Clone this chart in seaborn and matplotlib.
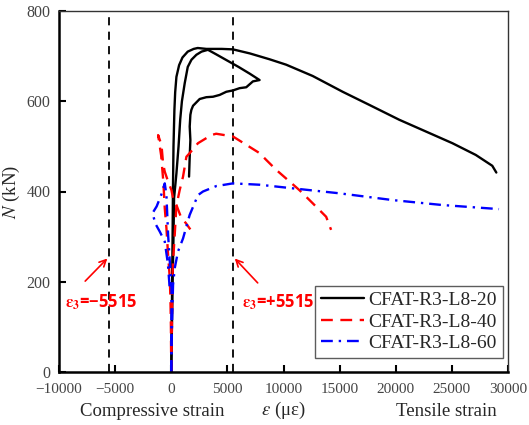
import numpy as np
import pandas as pd
import matplotlib
matplotlib.use("Agg")
import matplotlib.pyplot as plt
from matplotlib.lines import Line2D
import seaborn as sns

# ---------------- data ----------------
specimens = ["CFAT-R3-L8-20", "CFAT-R3-L8-40", "CFAT-R3-L8-60"]

# CFAT-R3-L8-20, gauge A (outer branch -> long tensile tail)
s20a_strain = [0, 40, 80, 120, 150, 200, 280, 350, 460, 700, 1000, 1470, 2000, 2360,
               3130, 4500, 5490, 7000, 8760, 10240, 12600, 15270, 17640, 20310,
               22680, 25050, 27130, 28600, 28960]
s20a_N = [0, 100, 200, 300, 400, 500, 580, 620, 654, 680, 697, 710, 716, 718,
          716, 716, 715, 706, 693, 681, 656, 621, 592, 559, 533, 507, 481, 457, 442]
# CFAT-R3-L8-20, gauge B (inner branch, unloading hook)
s20b_strain = [0, 60, 120, 200, 250, 460, 650, 800, 950, 1200, 1470, 1800, 2240, 2700,
               3270, 4000, 5000, 6000, 7000, 7870, 7274, 6681, 6089, 5496, 4904,
               4311, 3719, 3126, 2533, 1941, 1793, 1704, 1644, 1704, 1644, 1585]
s20b_N = [0, 100, 200, 300, 385, 440, 500, 560, 600, 640, 676, 692, 703, 710,
          714, 704, 690, 676, 661, 647, 644, 631, 629, 624, 621,
          614, 610, 609, 605, 590, 581, 570, 544, 514, 477, 433]

# CFAT-R3-L8-40, gauge A (compressive loop)
s40a_strain = [0, -30, -70, -130, -280, -430, -578, -700, -900, -1170, -870, -730,
               -580, -280, 20, 160, 460, 900, 1300, 1700]
s40a_N = [0, 100, 160, 208, 259, 319, 363, 420, 480, 525, 503, 463,
          444, 422, 403, 385, 370, 341, 330, 316]
# CFAT-R3-L8-40, gauge B (tensile branch)
s40b_strain = [0, 60, 100, 160, 310, 460, 600, 750, 1050, 1350, 1640, 2380, 3570,
               4000, 5490, 7870, 8460, 9350, 11420, 12600, 13800, 14240]
s40b_N = [0, 100, 200, 245, 304, 370, 385, 403, 433, 477, 485, 507, 525,
          528, 522, 485, 470, 448, 403, 374, 344, 315]

# CFAT-R3-L8-60, gauge A (compressive loop)
s60a_strain = [0, 10, 20, -130, -280, -430, -578, -900, -1300, -1670, -1400, -1020,
               -578, -300, -150]
s60a_N = [0, 100, 193, 245, 304, 392, 418, 392, 367, 352, 328, 311,
          289, 240, 190]
# CFAT-R3-L8-60, gauge B (tensile branch)
s60b_strain = [0, 60, 160, 310, 600, 1050, 1640, 2380, 2830, 4010, 5490, 7870,
               10830, 14980, 19720, 24160, 29200]
s60b_N = [0, 100, 193, 230, 267, 296, 348, 392, 400, 412, 418, 415,
          407, 396, 381, 370, 361]

limit_strain = [-5515, 5515]
x_ticks = [-10000, -5000, 0, 5000, 10000, 15000, 20000, 25000, 30000]
y_ticks = [0, 200, 400, 600, 800]

# ---------------- build long table ----------------
parts = []
for spec, g, xs, ys in [
    (specimens[0], "A", s20a_strain, s20a_N),
    (specimens[0], "B", s20b_strain, s20b_N),
    (specimens[1], "A", s40a_strain, s40a_N),
    (specimens[1], "B", s40b_strain, s40b_N),
    (specimens[2], "A", s60a_strain, s60a_N),
    (specimens[2], "B", s60b_strain, s60b_N),
]:
    parts.append(pd.DataFrame({"strain": xs, "N": ys, "specimen": spec,
                               "unit": spec + g}))
df = pd.concat(parts, ignore_index=True)

# ---------------- style ----------------
sns.set_theme(style="ticks")
plt.rcParams["font.family"] = ["Liberation Serif", "DejaVu Serif"]
plt.rcParams["mathtext.fontset"] = "stix"

colors = {specimens[0]: "#000000", specimens[1]: "#ff0000", specimens[2]: "#0000ff"}
dashes = {specimens[0]: "", specimens[1]: (5, 3.2), specimens[2]: (5, 2.5, 1, 2.5)}

fig = plt.figure(figsize=(5.29, 4.25), dpi=100)
ax = fig.add_axes([59 / 529, 1 - 372 / 425, (508 - 59) / 529, (372 - 11) / 425])

for xv in limit_strain:
    ax.axvline(xv, color="black", lw=1.3, dashes=(4.5, 3.5), zorder=1)

for spec in specimens:
    sub = df[df["specimen"] == spec]
    sns.lineplot(data=sub, x="strain", y="N", units="unit", estimator=None,
                 sort=False, color=colors[spec], lw=1.7,
                 dashes=False, legend=False, ax=ax)
    for ln in ax.get_lines()[-2:]:
        if dashes[spec]:
            ln.set_dashes(dashes[spec])

ax.set_xlim(-10000, 30000)
ax.set_ylim(0, 800)
ax.set_xticks(x_ticks)
ax.set_yticks(y_ticks)
ax.set_xticklabels([f"{t}".replace("-", "\u2212") for t in x_ticks])
ax.tick_params(direction="in", length=5, width=1.5,
               labelcolor="#444444", color="black", pad=6)
ax.tick_params(axis="x", labelsize=11, pad=8)
ax.tick_params(axis="y", labelsize=11.5)

for side in ["left", "bottom"]:
    ax.spines[side].set_linewidth(1.8)
    ax.spines[side].set_color("black")
for side in ["top", "right"]:
    ax.spines[side].set_linewidth(1.0)
    ax.spines[side].set_color("#333333")
    ax.spines[side].set_visible(True)

ax.set_xlabel(r"$\varepsilon$ (με)", fontsize=13.5)
ax.xaxis.set_label_coords(0.5, -0.078)
ax.set_ylabel(r"$N$ (kN)", fontsize=13.5)
ax.yaxis.set_label_coords(-0.083, 0.5)
fig.text(152 / 529, 1 - 412 / 425, "Compressive strain", fontsize=13.5,
         ha="center", va="center")
fig.text(446 / 529, 1 - 412 / 425, "Tensile strain", fontsize=13.5,
         ha="center", va="center")

# annotations
ann_font = dict(color="#ff0000", fontsize=12, fontweight="bold",
                family=["Open Sans", "DejaVu Sans"])
ax.annotate("", xy=(-5520, 256), xytext=(-7840, 197),
            arrowprops=dict(arrowstyle="->", color="#ff0000", lw=1.2))
ax.annotate("", xy=(5490, 256), xytext=(7870, 193),
            arrowprops=dict(arrowstyle="->", color="#ff0000", lw=1.2))
ax.text(-9500, 155, r"$\boldsymbol{\varepsilon}_\mathbf{3}$=−5515", ha="left",
        va="center", **ann_font)
ax.text(6300, 155, r"$\boldsymbol{\varepsilon}_\mathbf{3}$=+5515", ha="left",
        va="center", **ann_font)

handles = [Line2D([], [], color=colors[s], lw=1.7,
                  dashes=dashes[s] if dashes[s] else (None, None)) for s in specimens]
handles[0].set_linestyle("-")
leg = ax.legend(handles, specimens, loc="lower right",
                bbox_to_anchor=(0.9889, 0.0388), fontsize=14,
                frameon=True, fancybox=False, edgecolor="#333333",
                handlelength=2.2, handletextpad=0.25, labelspacing=0.2,
                borderpad=0.3, borderaxespad=0.0)
leg.get_frame().set_linewidth(1.0)

fig.savefig("out.png", dpi=100)
